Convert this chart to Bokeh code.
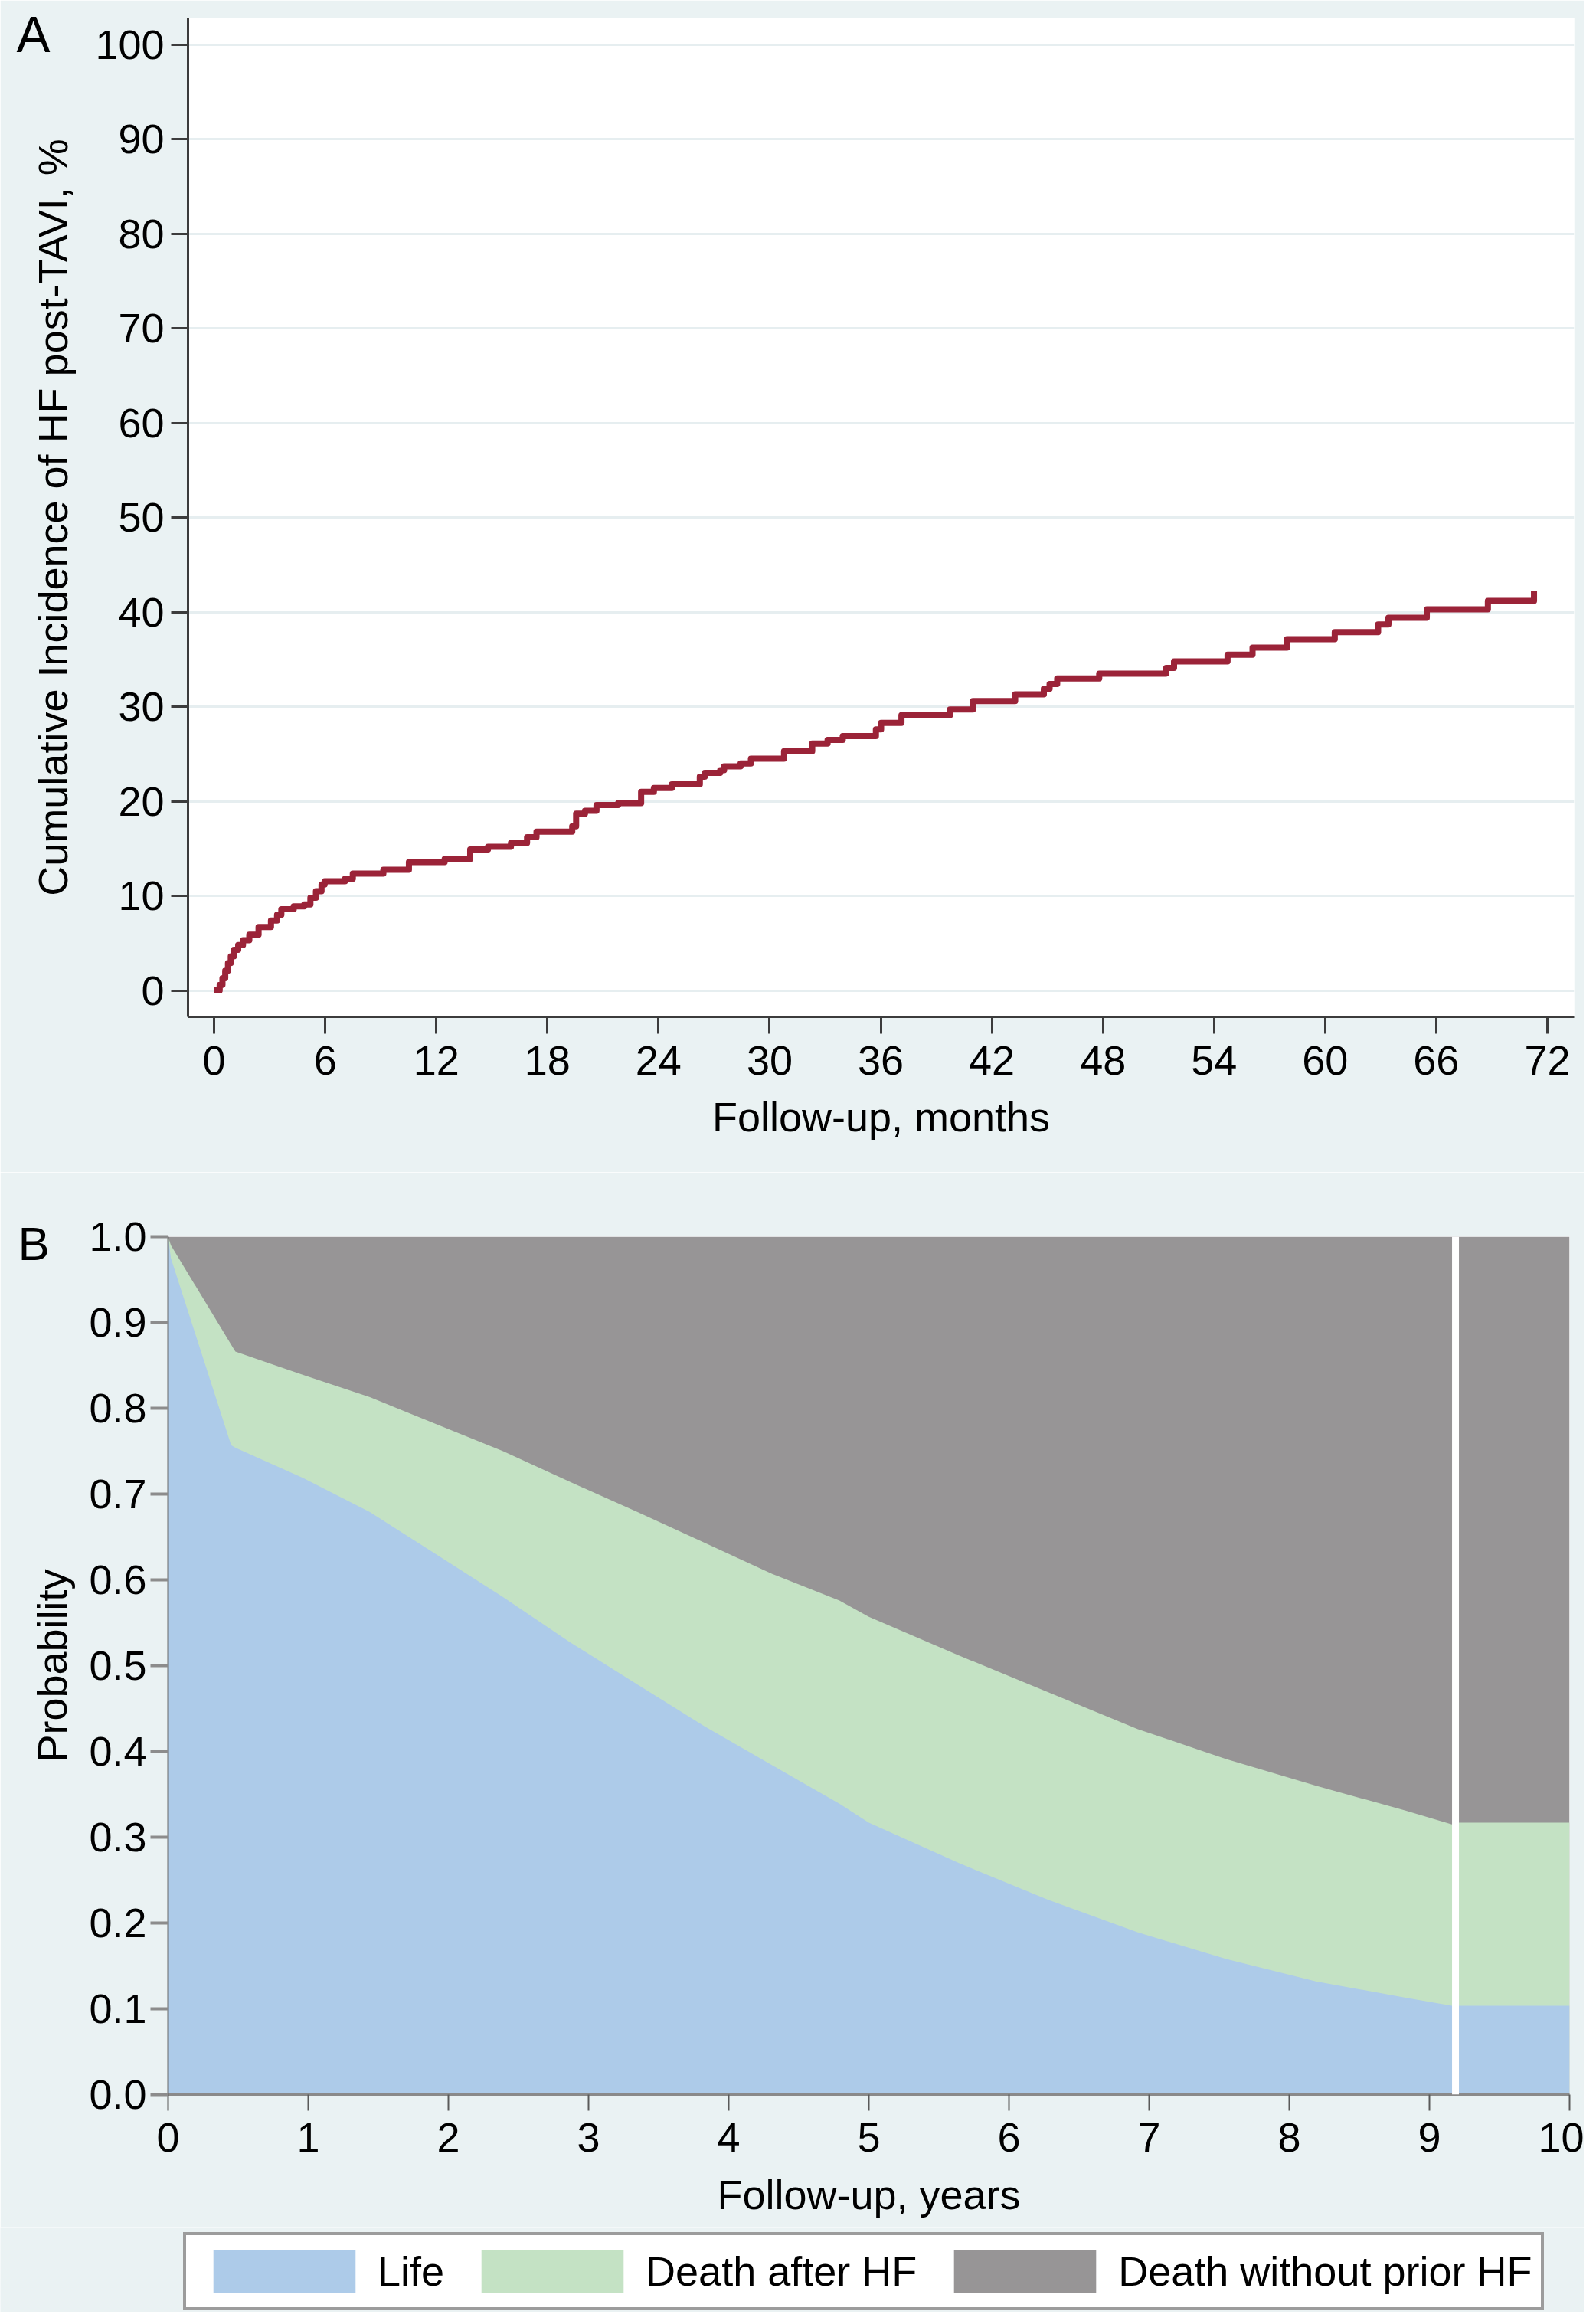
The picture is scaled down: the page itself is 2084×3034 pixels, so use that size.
from bokeh.plotting import figure
from bokeh.layouts import column
from bokeh.models import Range1d, FixedTicker, Legend, LegendItem, Span, PrintfTickFormatter
from bokeh.embed import file_html
from bokeh.resources import INLINE

# Panel A: cumulative incidence of heart failure after TAVI (step curve)
months = [0, 0.3, 0.45, 0.6, 0.75, 0.9, 1.07, 1.3, 1.56, 1.9, 2.4, 3.07, 3.4, 3.63, 4.3, 4.87,
          5.2, 5.5, 5.8, 5.97, 7.07, 7.49, 9.14, 10.52, 12.45, 13.83, 14.79, 16.03, 16.9, 17.41,
          19.34, 19.55, 20.03, 20.65, 21.82, 23.06, 23.75, 24.72, 26.23, 26.5, 27.33, 27.54,
          28.43, 28.99, 30.78, 32.3, 33.13, 33.95, 35.74, 36.02, 37.12, 39.74, 40.98, 43.26,
          44.81, 45.12, 45.53, 47.8, 51.42, 51.84, 54.73, 56.08, 57.94, 60.52, 62.86, 63.42,
          65.49, 68.79, 71.28]
incidence = [0, 0.6, 1.3, 2.1, 2.9, 3.6, 4.3, 4.8, 5.3, 5.9, 6.7, 7.4, 8.0, 8.6, 8.9, 9.1,
             9.8, 10.5, 11.2, 11.55, 11.8, 12.36, 12.77, 13.57, 13.9, 14.9, 15.2, 15.6, 16.2, 16.8,
             17.35, 18.7, 19.0, 19.6, 19.8, 21.0, 21.4, 21.8, 22.6, 23.0, 23.3, 23.7,
             24.0, 24.5, 25.3, 26.1, 26.5, 26.9, 27.6, 28.3, 29.1, 29.7, 30.6, 31.3,
             31.9, 32.4, 33.0, 33.5, 34.1, 34.8, 35.5, 36.25, 37.15, 37.9, 38.7, 39.4,
             40.3, 41.2, 42.2]
month_ticks = list(range(0, 73, 6))
pct_ticks = list(range(0, 101, 10))

# Panel B: state probabilities over follow-up
years = [0, 0.02, 0.45, 0.48, 0.96, 1.44, 1.92, 2.39, 2.87, 3.35, 3.83, 4.31, 4.79, 5.0,
         5.64, 6.28, 6.92, 7.55, 8.19, 8.83, 9.16, 9.21, 10.0]
life = [1.0, 0.975, 0.757, 0.754, 0.719, 0.679, 0.629, 0.580, 0.527, 0.478, 0.429, 0.384,
        0.339, 0.317, 0.270, 0.227, 0.189, 0.158, 0.132, 0.113, 0.1035, 0.1035, 0.1035]
death_after_hf = [0.0, 0.015, 0.117, 0.112, 0.120, 0.134, 0.152, 0.170, 0.187, 0.201, 0.214,
                  0.223, 0.237, 0.240, 0.242, 0.242, 0.237, 0.233, 0.228, 0.218, 0.2115,
                  0.2135, 0.2135]
year_ticks = list(range(0, 11))
prob_ticks = [i / 10 for i in range(0, 11)]
gap_year = 9.186
states = ["Life", "Death after HF", "Death without prior HF"]

FONT = "Liberation Sans"
BG = "#EAF2F3"
RED = "#9B2338"
BLUE = "#ADCBE9"
GREEN = "#C4E2C4"
GRAY = "#979596"


def style_axis(ax, tick_out, label_standoff, title_standoff, line_color, tick_color, tick_width, line_width):
    ax.axis_label_text_font = FONT
    ax.axis_label_text_font_size = "54px"
    ax.axis_label_text_font_style = "normal"
    ax.axis_label_text_color = "black"
    ax.axis_label_standoff = title_standoff
    ax.major_label_text_font = FONT
    ax.major_label_text_font_size = "54px"
    ax.major_label_text_color = "black"
    ax.major_label_standoff = label_standoff
    ax.major_tick_in = 0
    ax.major_tick_out = tick_out
    ax.major_tick_line_color = tick_color
    ax.major_tick_line_width = tick_width
    ax.minor_tick_line_color = None
    ax.axis_line_color = line_color
    ax.axis_line_width = line_width


def panel_letter(p, size, offset, standoff):
    p.title.text_font = FONT
    p.title.text_font_size = size
    p.title.text_font_style = "normal"
    p.title.text_color = "black"
    p.title.align = "left"
    p.title.vertical_align = "bottom"
    p.title.offset = offset
    p.title.standoff = standoff


# ---- Panel A
pa = figure(width=2068, height=1530, x_range=Range1d(-1.41, 73.45), y_range=Range1d(-2.79, 102.83),
            title="A", output_backend="svg", toolbar_location=None, frame_align=False,
            min_border_left=245, min_border_right=13, min_border_top=23, min_border_bottom=203,
            background_fill_color="white", border_fill_color=BG, outline_line_color=None)
panel_letter(pa, "66px", -224, -116)
pa.step(months, incidence, mode="after", line_color=RED, line_width=8, line_join="round")

pa.xaxis.ticker = FixedTicker(ticks=month_ticks)
pa.yaxis.ticker = FixedTicker(ticks=pct_ticks)
pa.xaxis.axis_label = "Follow-up, months"
pa.yaxis.axis_label = "Cumulative Incidence of HF post-TAVI, %"
style_axis(pa.xaxis[0], 22, 16, 22, "#3c3c3c", "#3c3c3c", 3, 3)
style_axis(pa.yaxis[0], 22, 9, 22, "#3c3c3c", "#3c3c3c", 3, 3)
pa.xgrid.visible = False
pa.ygrid.ticker = FixedTicker(ticks=pct_ticks)
pa.ygrid.grid_line_color = "#E6EEF0"
pa.ygrid.grid_line_width = 3

# ---- Panel B
top = [l + d for l, d in zip(life, death_after_hf)]

pb = figure(width=2068, height=1378, x_range=Range1d(0, 10), y_range=Range1d(0, 1),
            title="B", output_backend="svg", toolbar_location=None, frame_align=False,
            min_border_left=219, min_border_right=19, min_border_top=84, min_border_bottom=174,
            background_fill_color="white", border_fill_color=BG, outline_line_color=None)
panel_letter(pb, "62px", -196, -86)
pb.varea(x=years, y1=0, y2=1, fill_color=GRAY)
pb.varea(x=years, y1=0, y2=top, fill_color=GREEN)
pb.varea(x=years, y1=0, y2=life, fill_color=BLUE)
pb.add_layout(Span(location=gap_year, dimension="height", line_color="white", line_width=9))

pb.xaxis.ticker = FixedTicker(ticks=year_ticks)
pb.yaxis.ticker = FixedTicker(ticks=prob_ticks)
pb.yaxis.formatter = PrintfTickFormatter(format="%.1f")
pb.xaxis.axis_label = "Follow-up, years"
pb.yaxis.axis_label = "Probability"
style_axis(pb.xaxis[0], 21, 16, 23, "#8a8a8a", "#5a5a5a", 2, 3)
style_axis(pb.yaxis[0], 23, 5, 15, "#6a6a6a", "#8c8c8c", 4, 2)
pb.xgrid.visible = False
pb.ygrid.visible = False

# ---- Legend strip under panel B (single-point areas only feed the legend swatches)
pl = figure(width=2068, height=110, x_range=Range1d(0, 1), y_range=Range1d(0, 1),
            x_axis_type=None, y_axis_type=None, output_backend="svg", toolbar_location=None,
            frame_align=False, min_border=0,
            background_fill_color=BG, border_fill_color=BG, outline_line_color=None)
swatches = [pl.varea(x=years[:1], y1=[0], y2=[0], fill_color=c) for c in (BLUE, GREEN, GRAY)]
legend = Legend(items=[LegendItem(label=s, renderers=[r]) for s, r in zip(states, swatches)],
                orientation="horizontal", location=(239, 2),
                glyph_width=232, glyph_height=70, label_standoff=6, spacing=25,
                padding=12, margin=0,
                label_text_font=FONT, label_text_font_size="54px", label_text_color="black",
                border_line_color="#3a3a3a", border_line_width=4,
                background_fill_color="white", background_fill_alpha=1.0)
pl.add_layout(legend)

layout = column(pa, pb, pl, spacing=0)
open("out.html", "w").write(file_html(layout, INLINE))
